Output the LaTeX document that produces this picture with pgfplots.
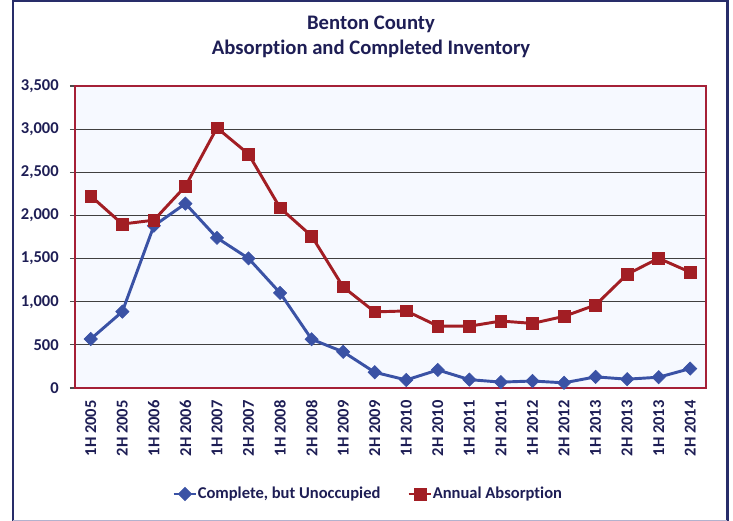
\documentclass[border=0pt]{standalone}
\usepackage{fontspec}
\setmainfont[Ligatures=NoCommon]{Carlito}
\usepackage{pgfplots}
\pgfplotsset{compat=1.18}

\definecolor{navytext}{RGB}{30,30,85}
\definecolor{framenavy}{RGB}{40,45,105}
\definecolor{framelight}{RGB}{178,178,206}
\definecolor{plotborder}{RGB}{165,32,55}
\definecolor{redser}{RGB}{162,30,36}
\definecolor{blueser}{RGB}{58,82,165}
\definecolor{plotbg}{RGB}{246,249,255}

% half-year values
\pgfplotstableread{
x  unocc  absorb
0   568   2225
1   885   1900
2   1880  1945
3   2137  2338
4   1740  3015
5   1502  2711
6   1102  2087
7   565   1761
8   419   1171
9   182   882
10  93    893
11  209   718
12  97    716
13  68    776
14  81    749
15  60    830
16  129   962
17  102   1318
18  125   1503
19  225   1342
}\datatable

\begin{document}
\begin{tikzpicture}
\useasboundingbox (0,0) rectangle (549.75pt,390.75pt);
\fill[white] (0,0) rectangle (549.75pt,390.75pt);
\draw[framenavy, line width=2pt] (9.75pt,0pt) -- (9.75pt,389.9pt) -- (545.6pt,389.9pt) -- (545.6pt,0pt);
\draw[framelight, line width=1pt] (9.75pt,0.5pt) -- (545.6pt,0.5pt);

\node[anchor=base, text=navytext, font=\bfseries\fontsize{15.5}{18}\selectfont] at (278.25pt,368.8pt) {Benton County};
\node[anchor=base, text=navytext, font=\bfseries\fontsize{15.5}{18}\selectfont] at (278.25pt,349.5pt) {Absorption and Completed Inventory};

\begin{axis}[
  at={(56.25pt,99.75pt)}, anchor=south west,
  scale only axis,
  width=473.25pt, height=226.5pt,
  xmin=-0.5, xmax=19.5,
  ymin=0, ymax=3500,
  xtick={0,...,19},
  xticklabels={1H 2005,2H 2005,1H 2006,2H 2006,1H 2007,2H 2007,1H 2008,2H 2008,1H 2009,2H 2009,1H 2010,2H 2010,1H 2011,2H 2011,1H 2012,2H 2012,1H 2013,2H 2013,1H 2013,2H 2014},
  ytick={0,500,...,3500},
  tick pos=left,
  tick align=outside,
  major tick length=3.75pt,
  xtick style={draw=none},
  ytick style={black!70, line width=0.8pt},
  tick label style={font=\bfseries\fontsize{12.4}{14}\selectfont, text=navytext, inner sep=0pt},
  xticklabel style={rotate=90, anchor=east},
  xticklabel shift=5.25pt,
  yticklabel shift=8.25pt,
  /pgf/number format/.cd, 1000 sep={,}, assume math mode=true, /pgfplots/.cd,
  ymajorgrids,
  grid style={black!75, line width=0.9pt},
  axis line style={plotborder, line width=2pt},
  axis background/.style={fill=plotbg},
  clip=false,
  legend columns=2,
  legend style={at={(0.4628,-0.351)}, anchor=center, draw=none, fill=none,
    font=\bfseries\fontsize{12.4}{14}\selectfont, text=navytext,
    /tikz/every even column/.append style={column sep=20pt},
    nodes={inner sep=0pt}},
  legend cell align=left,
]
\addplot[blueser, line width=2.2pt, mark=square*, mark size=3.5pt,
  mark options={rotate=45, fill=blueser, draw=blueser, line width=0.5pt}]
  table[x=x, y=unocc] {\datatable};
\addlegendentry{Complete, but Unoccupied}
\addplot[redser, line width=2.2pt, mark=square*, mark size=4.4pt,
  mark options={fill=redser, draw=redser, line width=0.5pt}]
  table[x=x, y=absorb] {\datatable};
\addlegendentry{Annual Absorption}
\end{axis}
\end{tikzpicture}
\end{document}
